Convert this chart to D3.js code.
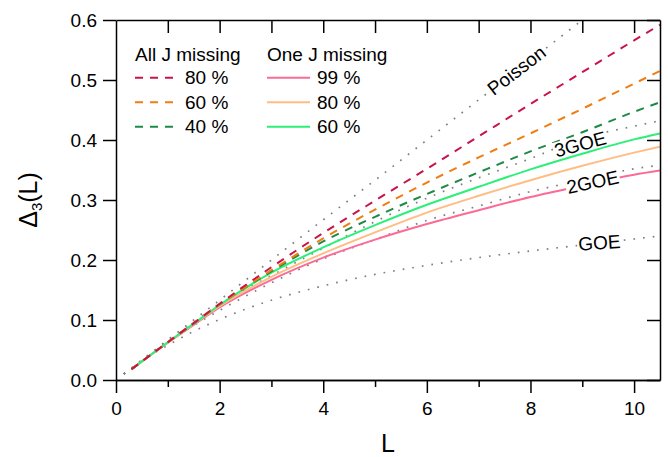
<!DOCTYPE html>
<html>
<head>
<meta charset="utf-8">
<script src="https://cdn.jsdelivr.net/npm/d3@7"></script>
<style>
  body { margin: 0; background: #fff; }
  svg { font-family: 'Liberation Sans', Arial, sans-serif; }
</style>
</head>
<body>
<div id="chart"></div>
<script>
// values
let dataL = [0.3, 0.5, 1, 1.5, 2, 3, 4, 5, 6, 7, 8, 9, 10, 10.5]
let allJ80 = [0.018, 0.031, 0.063, 0.095, 0.127, 0.188, 0.245, 0.299, 0.352, 0.406, 0.460, 0.513, 0.566, 0.592]
let allJ60 = [0.018, 0.031, 0.063, 0.095, 0.126, 0.183, 0.236, 0.284, 0.329, 0.371, 0.411, 0.452, 0.494, 0.515]
let allJ40 = [0.018, 0.031, 0.063, 0.094, 0.126, 0.181, 0.231, 0.272, 0.310, 0.346, 0.381, 0.413, 0.447, 0.463]
let oneJ99 = [0.018, 0.031, 0.062, 0.092, 0.121, 0.167, 0.204, 0.234, 0.260, 0.283, 0.305, 0.324, 0.342, 0.349]
let oneJ80 = [0.018, 0.031, 0.062, 0.093, 0.123, 0.172, 0.211, 0.246, 0.279, 0.307, 0.333, 0.357, 0.379, 0.389]
let oneJ60 = [0.018, 0.031, 0.063, 0.094, 0.125, 0.179, 0.221, 0.258, 0.292, 0.322, 0.351, 0.377, 0.401, 0.411]

let poissonL = [0.15, 0.5, 1, 1.5, 2, 3, 4, 5, 6, 7, 8, 9]
let poisson = [0.010, 0.033, 0.067, 0.100, 0.133, 0.200, 0.267, 0.333, 0.400, 0.467, 0.533, 0.600]
let refL = [0.15, 0.5, 1, 1.5, 2, 3, 4, 5, 6, 7, 8, 9, 10, 10.5]
let goe = [0.010, 0.032, 0.058, 0.081, 0.101, 0.133, 0.157, 0.176, 0.191, 0.204, 0.215, 0.225, 0.235, 0.240]
let goe2 = [0.010, 0.033, 0.064, 0.091, 0.116, 0.162, 0.202, 0.234, 0.266, 0.290, 0.314, 0.333, 0.352, 0.358]
let goe3 = [0.010, 0.033, 0.065, 0.096, 0.126, 0.174, 0.220, 0.264, 0.303, 0.337, 0.369, 0.403, 0.423, 0.432]

let xTicks = [0, 2, 4, 6, 8, 10]
let xMinor = [1, 3, 5, 7, 9]
let xTop = [1, 2, 3, 4, 5, 6, 7, 8, 9, 10]
let yTicks = [0, 0.1, 0.2, 0.3, 0.4, 0.5, 0.6]

let margin = { top: 20, left: 116, right: 8, bottom: 77 }
let width = 668 - margin.left - margin.right
let height = 457 - margin.top - margin.bottom

let svg = d3.select('#chart')
  .append('svg')
  .attr('width', 668)
  .attr('height', 457)

let g = svg.append('g')
  .attr('transform', 'translate(' + margin.left + ',' + margin.top + ')')

let x = d3.scaleLinear().domain([0, 10.5]).range([0, width])
let y = d3.scaleLinear().domain([0, 0.6]).range([height, 0])

g.append('clipPath').attr('id', 'clip')
  .append('rect').attr('width', width).attr('height', height)

let line = d3.line()
  .x(d => x(d[0]))
  .y(d => y(d[1]))
  .curve(d3.curveMonotoneX)

let plot = g.append('g').attr('clip-path', 'url(#clip)')

let dotted = [[poissonL, poisson], [refL, goe], [refL, goe2], [refL, goe3]]
dotted.forEach(s => {
  plot.append('path')
    .datum(d3.zip(s[0], s[1]))
    .attr('d', line)
    .attr('fill', 'none')
    .attr('stroke', '#808080')
    .attr('stroke-width', 1.7)
    .attr('stroke-dasharray', '1.7,8')
})

let series = [
  { vals: oneJ99, color: '#fb6b96', dash: null },
  { vals: oneJ80, color: '#ffbd84', dash: null },
  { vals: oneJ60, color: '#2cef78', dash: null },
  { vals: allJ40, color: '#1f8a45', dash: '8,7' },
  { vals: allJ60, color: '#ef7d12', dash: '8,7' },
  { vals: allJ80, color: '#c7154a', dash: '8,7' }
]
series.forEach(s => {
  plot.append('path')
    .datum(d3.zip(dataL, s.vals))
    .attr('d', line)
    .attr('fill', 'none')
    .attr('stroke', s.color)
    .attr('stroke-width', 2)
    .attr('stroke-dasharray', s.dash)
})

// curve labels on white patches
function curveLabel(text, L, v, angle) {
  let lg = g.append('g')
    .attr('transform', 'translate(' + x(L) + ',' + y(v) + ') rotate(' + angle + ')')
  let t = lg.append('text')
    .attr('text-anchor', 'middle')
    .attr('dy', '0.35em')
    .attr('font-size', 19)
    .text(text)
  let b = t.node().getBBox()
  lg.insert('rect', 'text')
    .attr('x', b.x - 1).attr('y', b.y + 2)
    .attr('width', b.width + 2).attr('height', b.height - 5)
    .attr('fill', '#fff')
}
curveLabel('Poisson', 7.73, 0.516, -37.7)
curveLabel('3GOE', 8.96, 0.393, -15)
curveLabel('2GOE', 9.2, 0.330, -12)
curveLabel('GOE', 9.33, 0.229, -4)

// axes
let axisStyle = sel => {
  sel.selectAll('path, line').attr('stroke', '#000').attr('stroke-width', 1.5)
  sel.selectAll('text').attr('font-size', 19).attr('fill', '#000')
  sel.attr('font-family', null)
}

g.append('g')
  .attr('transform', 'translate(0,' + height + ')')
  .call(d3.axisBottom(x).tickValues(xMinor).tickSize(7).tickFormat('').tickSizeOuter(0))
  .call(axisStyle)
g.append('g')
  .attr('transform', 'translate(0,' + height + ')')
  .call(d3.axisBottom(x).tickValues(xTicks).tickSize(13).tickPadding(9).tickSizeOuter(0))
  .call(axisStyle)
g.append('g')
  .call(d3.axisTop(x).tickValues(xTop).tickSize(-13).tickFormat('').tickSizeOuter(0))
  .call(axisStyle)
g.append('g')
  .call(d3.axisLeft(y).tickValues(yTicks).tickSize(13).tickPadding(6).tickFormat(d3.format('.1f')).tickSizeOuter(0))
  .call(axisStyle)
g.append('g')
  .attr('transform', 'translate(' + width + ',0)')
  .call(d3.axisRight(y).tickValues(yTicks).tickSize(-13).tickFormat('').tickSizeOuter(0))
  .call(axisStyle)

// axis titles
g.append('text')
  .attr('x', width / 2)
  .attr('y', height + 72)
  .attr('text-anchor', 'middle')
  .attr('font-size', 25)
  .text('L')

let yt = svg.append('text')
  .attr('transform', 'translate(37,' + (margin.top + y(0.3)) + ') rotate(-90)')
  .attr('text-anchor', 'middle')
  .attr('font-size', 25)
yt.append('tspan').text('Δ')
yt.append('tspan').attr('font-size', 15).attr('dy', 5).text('3')
yt.append('tspan').attr('dy', -5).text('(L)')

// legend
let legendCols = [
  { title: 'All J missing', x: 19, items: [['80 %', '#c7154a', '8,7'], ['60 %', '#ef7d12', '8,7'], ['40 %', '#1f8a45', '8,7']] },
  { title: 'One J missing', x: 151, items: [['99 %', '#fb6b96', null], ['80 %', '#ffbd84', null], ['60 %', '#2cef78', null]] }
]
legendCols.forEach(col => {
  let lg = g.append('g').attr('transform', 'translate(' + col.x + ',0)')
  lg.append('text').attr('x', 0).attr('y', 41).attr('font-size', 19).text(col.title)
  col.items.forEach((it, i) => {
    let yy = 57.7 + i * 24.5
    lg.append('line')
      .attr('x1', 0).attr('x2', 43)
      .attr('y1', yy).attr('y2', yy)
      .attr('stroke', it[1]).attr('stroke-width', 2)
      .attr('stroke-dasharray', it[2])
    lg.append('text')
      .attr('x', 50).attr('y', yy).attr('dy', '0.35em')
      .attr('font-size', 19).text(it[0])
  })
})
</script>
</body>
</html>
